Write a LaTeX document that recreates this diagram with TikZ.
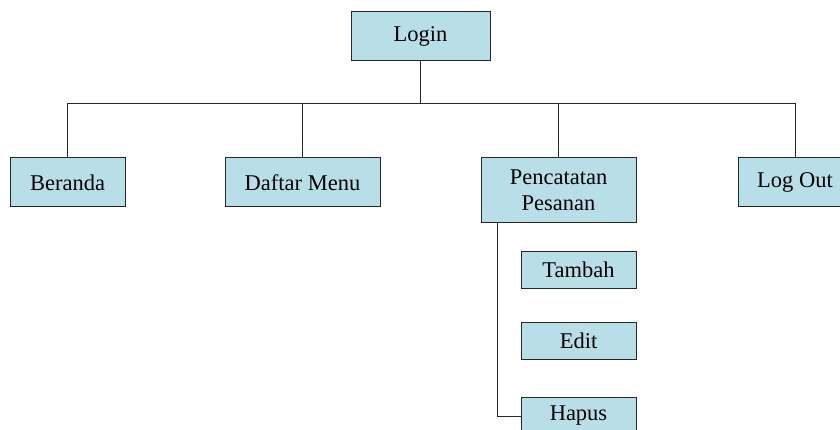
\documentclass[tikz,border=0pt]{standalone}
\usepackage{fontspec}
\setmainfont{Liberation Serif}
\definecolor{boxfill}{RGB}{184,222,232}
\begin{document}
\begin{tikzpicture}[x=1pt,y=-1pt,
  menubox/.style={draw=black!85, line width=1pt, fill=boxfill, inner sep=0pt,
    font=\fontsize{22.5}{26}\selectfont, text=black, align=center},
  link/.style={draw=black!85, line width=1pt}]
\useasboundingbox (0,0) rectangle (840,430);
\begin{scope}
\clip (0,0) rectangle (840,430);
\node[menubox, minimum width=139pt, minimum height=49pt] (login) at (420.5,36.5) {Login};
\node[menubox, minimum width=115pt, minimum height=49pt] (beranda) at (67.5,182.5) {Beranda};
\node[menubox, minimum width=155pt, minimum height=49pt] (daftar) at (302.5,182.5) {Daftar Menu};
\node[menubox, minimum width=155pt, minimum height=65pt] (pencatatan) at (558.5,190.5) {Pencatatan\\Pesanan};
\node[menubox, minimum width=114pt, minimum height=49pt] (logout) at (795,182.5) {Log Out};
\node[menubox, minimum width=115pt, minimum height=36pt] (tambah) at (578.5,270) {Tambah};
\node[menubox, minimum width=115pt, minimum height=37pt] (edit) at (578.5,340.5) {Edit};
\node[menubox, minimum width=115pt, minimum height=38pt] (hapus) at (578.5,416) {Hapus};
\coordinate (bus) at (420.5,104);
\draw[link] (login.south) -- (bus);
\draw[link] (beranda.north) |- (bus);
\draw[link] (logout.north) |- (bus);
\draw[link] (daftar.north) -- (daftar.north |- bus);
\draw[link] (pencatatan.north) -- (pencatatan.north |- bus);
\coordinate (branch) at ([xshift=17pt]pencatatan.south west);
\draw[link] (branch) |- (hapus.west);
\end{scope}
\end{tikzpicture}
\end{document}
